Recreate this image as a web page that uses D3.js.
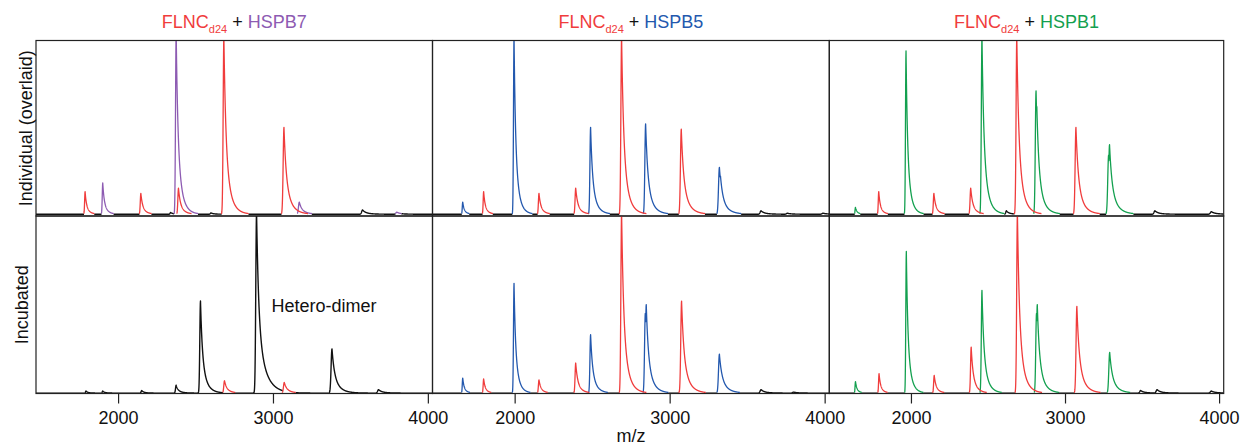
<!DOCTYPE html>
<html>
<head>
<meta charset="utf-8">
<script src="https://cdn.jsdelivr.net/npm/d3@7"></script>
<style>
  html, body { margin: 0; padding: 0; background: #fff; }
  svg { display: block; font-family: "Liberation Sans", Arial, sans-serif; }
</style>
</head>
<body>
<div id="chart"></div>
<script>
// Eje m/z
const mzDomain = [1470, 4030];
const mzTicks = [2000, 3000, 4000];

const partnerNames = ["HSPB7", "HSPB5", "HSPB1"];
const partnerColors = ["#8d5bb2", "#2358ae", "#13a04f"];
const flncColor = "#f03c3c";
const baseColor = "#111";
const rowLabels = ["Individual (overlaid)", "Incubated"];

// Picos: [m/z, intensidad relativa, ancho de cola opcional]
// FLNCd24 + HSPB7
const flncB7Individual = [[1787, 0.13], [2147, 0.12], [2390, 0.15], [2683, 1.02], [3071, 0.50]];
const hspb7Individual = [[1901, 0.18], [2375, 1.05], [2380, 0.43], [3170, 0.07], [3800, 0.012]];
const blackB7Individual = [[2340, 0.01], [2600, 0.008], [3579, 0.025], [3800, 0.01]];
const flncB7Incubated = [[2687, 0.07], [3073, 0.06]];
const complexB7Incubated = [[1793, 0.012], [1901, 0.012], [2153, 0.015], [2375, 0.045], [2532, 0.52],
  [2894, 1.02, 50], [3381, 0.25, 42], [3682, 0.02]];

// FLNCd24 + HSPB5
const flncB5Individual = [[1800, 0.13], [2157, 0.12], [2394, 0.15], [2690, 1.02], [3075, 0.49]];
const hspb5Individual = [[1665, 0.07], [1996, 1.02], [2490, 0.50], [2845, 0.52], [2851, 0.38],
  [3321, 0.27], [3328, 0.22]];
const blackB5Individual = [[3590, 0.02], [3760, 0.006], [3990, 0.006]];
const flncB5Incubated = [[1800, 0.08], [2157, 0.075], [2394, 0.17], [2690, 1.02], [3077, 0.52]];
const hspb5Incubated = [[1665, 0.085], [1996, 0.62], [2490, 0.33], [2843, 0.45], [2849, 0.50], [3321, 0.22]];
const blackB5Incubated = [[3590, 0.02], [3800, 0.006]];

// FLNCd24 + HSPB1
const flncB1Individual = [[1791, 0.13], [2149, 0.12], [2388, 0.15], [2687, 1.02], [2694, 0.6], [3071, 0.50]];
const hspb1Individual = [[1640, 0.04], [1968, 0.94], [2461, 1.02], [2812, 0.71], [2817, 0.62],
  [3283, 0.34], [3289, 0.40]];
const blackB1Individual = [[2620, 0.02], [3140, 0.01], [3584, 0.02], [3950, 0.015]];
const flncB1Incubated = [[1793, 0.11], [2151, 0.10], [2391, 0.26], [2403, 0.07], [2691, 1.02], [3077, 0.49]];
const hspb1Incubated = [[1640, 0.065], [1970, 0.80], [2461, 0.58], [2815, 0.45], [2820, 0.50], [3290, 0.23]];
const blackB1Incubated = [[3491, 0.015], [3598, 0.02], [3950, 0.012]];

// Anotación del panel incubado con HSPB7
const annotationText = "Hetero-dimer";
const annotationPos = [2990, 0.46];

// Tabla de paneles: [fila][columna] -> fondo negro + trazas coloreadas
const panels = [
  [
    { base: blackB7Individual, traces: [[hspb7Individual, 0], [flncB7Individual, -1]] },
    { base: blackB5Individual, traces: [[hspb5Individual, 1], [flncB5Individual, -1]] },
    { base: blackB1Individual, traces: [[hspb1Individual, 2], [flncB1Individual, -1]] }
  ],
  [
    { base: complexB7Incubated, traces: [[flncB7Incubated, -1]] },
    { base: blackB5Incubated, traces: [[hspb5Incubated, 1], [flncB5Incubated, -1]] },
    { base: blackB1Incubated, traces: [[hspb1Incubated, 2], [flncB1Incubated, -1]] }
  ]
];

// Geometría
const width = 1241, height = 448;
const colEdges = [36, 432.5, 829.3, 1223.7];
const rowEdges = [40.5, 216, 393.5];
const rowFloor = [-0.01, -0.002];
const font = 18;

const svg = d3.select("#chart").append("svg")
  .attr("width", width)
  .attr("height", height);

// Forma de pico: subida rápida y cola exponencial hacia m/z alto
function peakShape(mz, peak) {
  const [c, h, w] = peak;
  const d = mz - c;
  if (d < -40 || d > 700) return 0;
  if (d < 0) {
    const wl = c / 420;
    return h * Math.exp(-(d * d) / (wl * wl));
  }
  const ws = c / 210, wt = w || c / 78;
  return h * (0.6 * Math.exp(-d / ws) + 0.4 * Math.exp(-d / wt));
}

const mzGrid = d3.range(mzDomain[0], mzDomain[1] + 0.5, 1);
const spectrum = peaks => mzGrid.map(mz => d3.max(peaks, p => peakShape(mz, p)) || 0);

const thr = 0.004;

panels.forEach((row, r) => {
  row.forEach((panel, c) => {
    const x0 = colEdges[c], x1 = colEdges[c + 1];
    const y0 = rowEdges[r], y1 = rowEdges[r + 1];

    const x = d3.scaleLinear().domain(mzDomain).range([x0, x1]);
    const y = d3.scaleLinear().domain([rowFloor[r], 1]).range([y1, y0]);

    const clipId = `clip-${r}-${c}`;
    svg.append("clipPath").attr("id", clipId)
      .append("rect")
      .attr("x", x0).attr("y", y0)
      .attr("width", x1 - x0).attr("height", y1 - y0);

    const g = svg.append("g").attr("clip-path", `url(#${clipId})`);

    const traces = panel.traces.map(([peaks, ci]) => ({
      values: spectrum(peaks),
      color: ci < 0 ? flncColor : partnerColors[ci]
    }));
    const base = spectrum(panel.base);
    const maxColored = mzGrid.map((_, i) => d3.max(traces, t => t.values[i]) || 0);

    const line = d3.line()
      .x(d => x(d[0]))
      .y(d => y(d[1]));

    // Traza negra (línea base y picos no asignados)
    g.append("path")
      .attr("fill", "none")
      .attr("stroke", baseColor)
      .attr("stroke-width", 1.4)
      .attr("stroke-linejoin", "round")
      .attr("d", line.defined(d => d[2])(mzGrid.map((mz, i) => {
        const ok = maxColored[i] < thr || base[i] >= maxColored[i] ||
          (i > 0 && maxColored[i - 1] < thr) || (i < mzGrid.length - 1 && maxColored[i + 1] < thr);
        return [mz, base[i], ok];
      })));

    // Trazas coloreadas
    traces.forEach(t => {
      const v = t.values;
      g.append("path")
        .attr("fill", "none")
        .attr("stroke", t.color)
        .attr("stroke-width", 1.3)
        .attr("stroke-linejoin", "round")
        .attr("d", line.defined(d => d[2])(mzGrid.map((mz, i) => {
          const ok = v[i] >= thr || (i > 0 && v[i - 1] >= thr) || (i < v.length - 1 && v[i + 1] >= thr);
          return [mz, v[i], ok];
        })));
    });

    // Marco del panel
    svg.append("rect")
      .attr("x", x0).attr("y", y0)
      .attr("width", x1 - x0).attr("height", y1 - y0)
      .attr("fill", "none")
      .attr("stroke", "#222")
      .attr("stroke-width", 1.2);

    // Eje inferior solo en la fila de abajo
    if (r === rowEdges.length - 2) {
      const axis = svg.append("g")
        .attr("transform", `translate(0,${y1})`)
        .call(d3.axisBottom(x).tickValues(mzTicks).tickSize(10).tickPadding(8).tickFormat(d3.format("d")));
      axis.select(".domain").remove();
      axis.selectAll(".tick line").attr("stroke", "#222").attr("stroke-width", 1.2);
      axis.selectAll(".tick text")
        .attr("font-size", font)
        .attr("font-family", "Liberation Sans, Arial, sans-serif")
        .attr("fill", "#111");
    }

    // Anotación del heterodímero
    if (r === 1 && c === 0) {
      svg.append("text")
        .attr("x", x(annotationPos[0]))
        .attr("y", y(annotationPos[1]))
        .attr("font-size", font)
        .attr("fill", "#111")
        .text(annotationText);
    }
  });
});

// Títulos de columna
partnerNames.forEach((name, c) => {
  const t = svg.append("text")
    .attr("x", (colEdges[c] + colEdges[c + 1]) / 2)
    .attr("y", 28)
    .attr("text-anchor", "middle")
    .attr("font-size", font)
    .style("white-space", "pre");
  t.append("tspan").attr("fill", flncColor).text("FLNC");
  t.append("tspan").attr("fill", flncColor).attr("font-size", 11).attr("dy", 5).text("d24");
  t.append("tspan").attr("fill", "#111").attr("dy", -5).text(" + ");
  t.append("tspan").attr("fill", partnerColors[c]).text(name);
});

// Etiquetas de fila
const rowLabelX = [32, 28];
rowLabels.forEach((label, r) => {
  const cy = (rowEdges[r] + rowEdges[r + 1]) / 2;
  svg.append("text")
    .attr("transform", `translate(${rowLabelX[r]},${cy}) rotate(-90)`)
    .attr("text-anchor", "middle")
    .attr("font-size", font)
    .attr("fill", "#111")
    .text(label);
});

// Título del eje x
svg.append("text")
  .attr("x", (colEdges[1] + colEdges[2]) / 2)
  .attr("y", 442)
  .attr("text-anchor", "middle")
  .attr("font-size", font)
  .attr("fill", "#111")
  .text("m/z");
</script>
</body>
</html>
